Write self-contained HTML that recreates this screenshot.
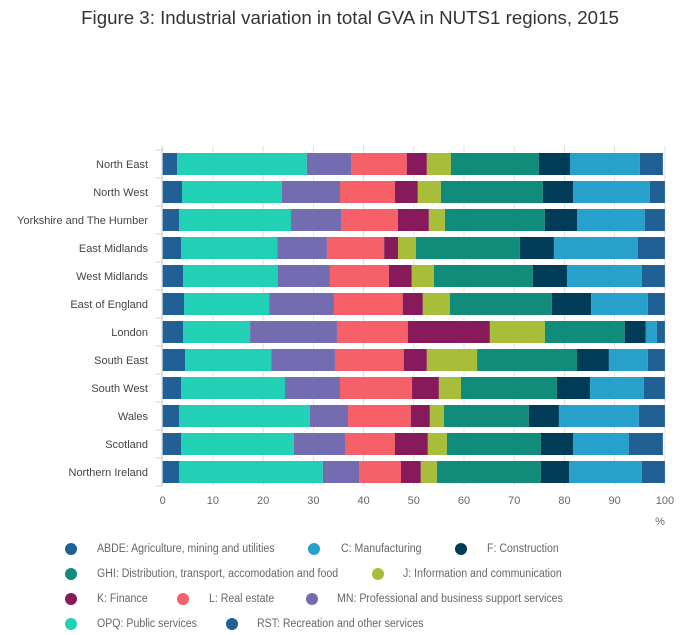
<!DOCTYPE html>
<html><head><meta charset="utf-8"><style>
body{margin:0;background:#fff;font-family:"Liberation Sans",sans-serif;}
#wrap{position:relative;width:700px;height:635px;overflow:hidden;}
.lg{position:absolute;font-size:11.5px;color:#666;white-space:nowrap;line-height:14px;transform:scaleX(0.92);transform-origin:0 50%;}
.dot{position:absolute;width:12px;height:12px;border-radius:50%;}
</style></head><body>
<div id="wrap">
<div style="position:absolute;left:0;width:700px;top:7px;text-align:center;font-size:18.7px;color:#333;">Figure 3: Industrial variation in total GVA in NUTS1 regions, 2015</div>
<svg id="svg" width="700" height="635" style="position:absolute;left:0;top:0"></svg>
<div id="legend"></div>
</div>
<script>
const regions=["North East","North West","Yorkshire and The Humber","East Midlands","West Midlands","East of England","London","South East","South West","Wales","Scotland","Northern Ireland"];
const seriesNames=["ABDE","OPQ","MN","L","K","J","GHI","F","C","RST"];
const ABDE=[2.9,3.85,3.25,3.65,4.05,4.25,4.05,4.45,3.65,3.25,3.65,3.25];
const OPQ=[25.8,19.9,22.3,19.15,18.9,16.95,13.35,17.15,20.7,26.05,22.45,28.65];
const MN=[8.8,11.55,9.95,9.9,10.35,12.9,17.3,12.7,10.95,7.6,10.2,7.2];
const L=[11.1,10.95,11.35,11.4,11.75,13.7,14.1,13.7,14.35,12.5,9.95,8.35];
const K=[4.0,4.55,6.15,2.75,4.55,4.0,16.35,4.6,5.35,3.8,6.55,3.95];
const J=[4.8,4.6,3.2,3.55,4.4,5.4,10.95,10.0,4.4,2.8,3.8,3.2];
const GHI=[17.5,20.3,19.9,20.7,19.7,20.3,15.9,19.9,19.1,16.9,18.7,20.7];
const F=[6.2,6.0,6.4,6.8,6.8,7.8,4.2,6.35,6.6,6.0,6.4,5.6];
const C=[13.9,15.3,13.5,16.7,14.9,11.3,2.2,7.75,10.7,15.9,11.1,14.5];
const RST=[4.6,3.0,4.0,5.4,4.6,3.4,1.6,3.4,4.2,5.2,6.8,4.6];
const xTicks=[0,10,20,30,40,50,60,70,80,90,100];
const series=[ABDE,OPQ,MN,L,K,J,GHI,F,C,RST];
const colors=["#206095","#22d0b6","#746cb1","#f66068","#871a5b","#a8bd3a","#118c7b","#003c57","#27a0cc","#206095"];
const X0=162.7,X1=664.9,Y0=153,PITCH=28,BH=22;
function xs(v){return X0+(X1-X0)*v/100;}
function ys(i){return Y0+i*PITCH;}
const NS="http://www.w3.org/2000/svg";
const svg=document.getElementById('svg');
function mk(t,a){const e=document.createElementNS(NS,t);for(const k in a)e.setAttribute(k,a[k]);svg.appendChild(e);return e;}
xTicks.forEach(t=>{
  const g=mk('line',{x1:xs(t),x2:xs(t),y1:146,y2:486,stroke:'#e2e2e2','stroke-width':1});
  
  
  const tx=mk('text',{x:xs(t),y:504,'text-anchor':'middle','font-size':11,fill:'#666','font-family':'Liberation Sans'});
  tx.textContent=t;
  
  
});
const pct=mk('text',{x:660,y:525,'text-anchor':'middle','font-size':11,fill:'#666','font-family':'Liberation Sans'});
pct.textContent='%';


const ax=mk('line',{x1:162,x2:162,y1:146,y2:486,stroke:'#c9d2e3','stroke-width':1});


for(let i=0;i<=regions.length;i++){
  const tk=mk('line',{x1:156,x2:162,y1:ys(i)-3,y2:ys(i)-3,stroke:'#c9d2e3','stroke-width':1});
  
  
}
regions.forEach((r,i)=>{
  const tx=mk('text',{x:148,y:ys(i)+BH/2+4,'text-anchor':'end','font-size':11,fill:'#444','font-family':'Liberation Sans'});
  tx.textContent=r;
  
  
  let acc=0;
  series.forEach((s,j)=>{
    const v=s[i];
    const rc=mk('rect',{x:xs(acc),y:ys(i),width:xs(acc+v)-xs(acc),height:BH,fill:colors[j]});
    
    
    acc+=v;
  });
});
const legendItems=[
 ["ABDE: Agriculture, mining and utilities",0,71,97,549],
 ["C: Manufacturing",8,314,341,549],
 ["F: Construction",7,461,487,549],
 ["GHI: Distribution, transport, accomodation and food",6,71,97,574],
 ["J: Information and communication",5,378,403,574],
 ["K: Finance",4,71,97,599],
 ["L: Real estate",3,183,209,599],
 ["MN: Professional and business support services",2,312,337,599],
 ["OPQ: Public services",1,71,97,624],
 ["RST: Recreation and other services",9,232,257,624]];
const lg=document.getElementById('legend');
legendItems.forEach(it=>{
  const d=document.createElement('div');d.className='dot';
  
  
  d.style.left=(it[2]-6)+'px';d.style.top=(it[4]-6)+'px';d.style.background=colors[it[1]];
  lg.appendChild(d);
  const t=document.createElement('div');t.className='lg';
  
  
  t.style.left=it[3]+'px';t.style.top=(it[4]-7)+'px';t.textContent=it[0];
  lg.appendChild(t);
});
</script>
</body></html>
